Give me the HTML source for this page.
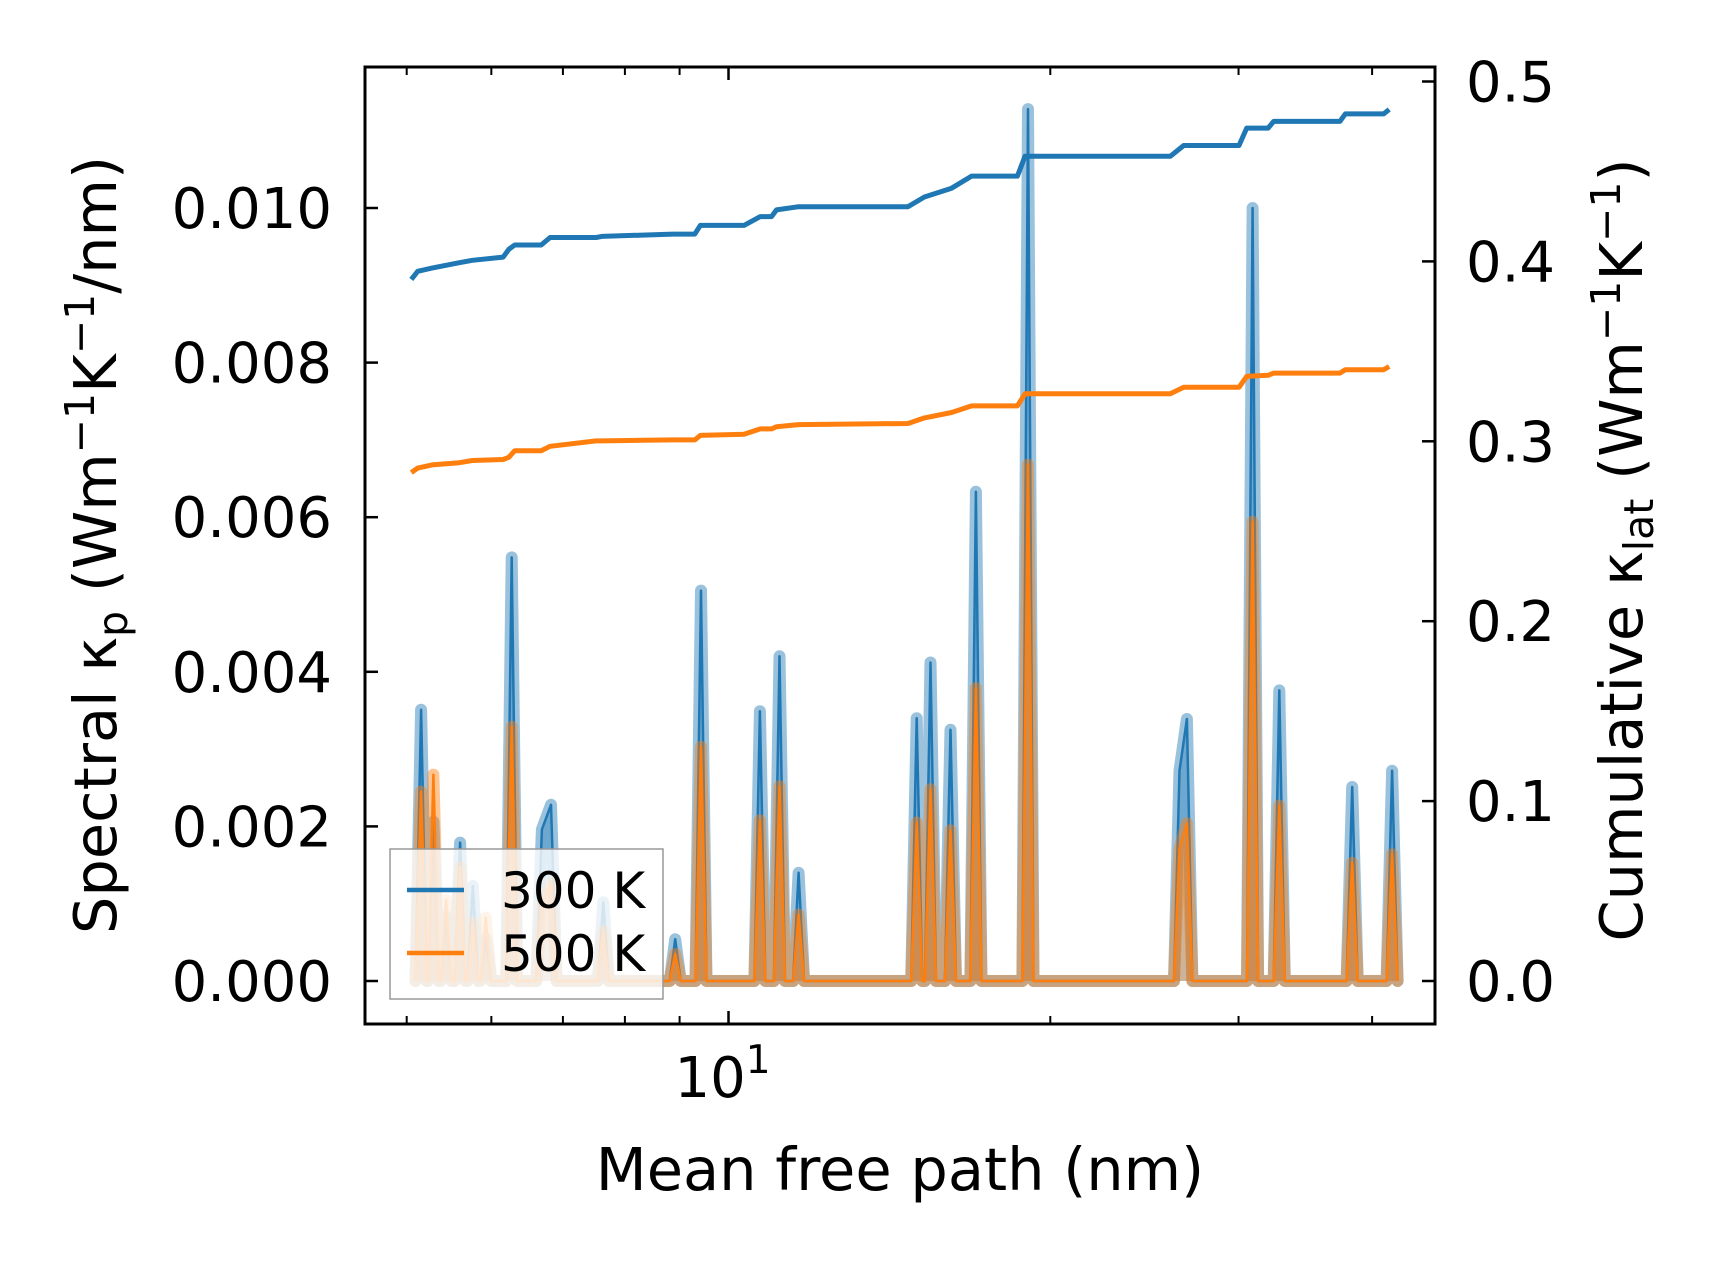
<!DOCTYPE html>
<html><head><meta charset="utf-8"><style>
html,body{margin:0;padding:0;background:#fff;}
svg text{font-family:"DejaVu Sans","Liberation Sans",sans-serif;fill:#000;}
</style></head><body>
<svg id="chart" width="1716" height="1262" viewBox="0 0 1716 1262" xmlns="http://www.w3.org/2000/svg">
<g id="plot"></g>
<g id="axes"></g>
</svg>
<script>
// Spectral kappa spikes (MFP in nm, value in W/mK/nm)
const spikeMfp = [5.157,5.296,5.442,5.609,5.765,5.928,6.269,6.69,6.823,7.637,8.916,9.425,10.70,11.16,11.63,15.00,15.45,16.13,17.04,19.06,26.42,26.84,30.92,32.75,38.32,41.76];
const spec300 = [3.51e-3,2.06e-3,0.84e-3,1.79e-3,1.23e-3,0.55e-3,5.48e-3,1.96e-3,2.28e-3,1.02e-3,0.54e-3,5.05e-3,3.49e-3,4.20e-3,1.40e-3,3.40e-3,4.12e-3,3.25e-3,6.33e-3,11.28e-3,2.72e-3,3.39e-3,10.0e-3,3.76e-3,2.51e-3,2.72e-3];
const spec500 = [2.45e-3,2.67e-3,1.05e-3,1.48e-3,0.76e-3,0.82e-3,3.29e-3,1.00e-3,1.27e-3,0.65e-3,0.35e-3,3.03e-3,2.08e-3,2.52e-3,0.86e-3,2.05e-3,2.48e-3,1.95e-3,3.79e-3,6.68e-3,1.71e-3,2.04e-3,5.94e-3,2.27e-3,1.53e-3,1.64e-3];
// Cumulative kappa (W/mK)
const cumMfp = [5.05,5.12,5.28,5.60,5.76,6.155,6.23,6.31,6.68,6.81,7.52,7.61,8.87,9.30,9.41,10.34,10.71,10.97,11.09,11.63,14.72,15.25,16.17,16.88,18.63,18.94,25.90,26.66,30.03,30.53,31.97,32.36,37.32,37.76,41.0,41.5];
const cum300 = [0.390,0.3945,0.3963,0.3993,0.4006,0.4024,0.4067,0.4091,0.4091,0.4133,0.4133,0.4139,0.4152,0.4152,0.4200,0.4200,0.4249,0.4249,0.4286,0.4304,0.4304,0.4358,0.4407,0.4474,0.4474,0.4584,0.4584,0.4644,0.4644,0.4741,0.4741,0.4778,0.4778,0.4820,0.4820,0.4845];
const cum500 = [0.2826,0.2851,0.2869,0.2881,0.2893,0.2899,0.2911,0.2948,0.2948,0.2972,0.3002,0.3002,0.3008,0.3008,0.3033,0.3039,0.3069,0.3069,0.3081,0.3093,0.3099,0.3130,0.3160,0.3197,0.3197,0.3264,0.3264,0.3300,0.3300,0.3361,0.3367,0.3379,0.3379,0.3398,0.3398,0.3416];
const leftTicks = [0,0.002,0.004,0.006,0.008,0.010];
const leftTickLabels = ["0.000","0.002","0.004","0.006","0.008","0.010"];
const rightTicks = [0,0.1,0.2,0.3,0.4,0.5];
const rightTickLabels = ["0.0","0.1","0.2","0.3","0.4","0.5"];
const minorX = [5,6,7,8,9,20,30,40];

const L=365,R=1435,T=67,B=1024;
const X0=728.5, DEC=1069;
const HW=1.012;
function xs(m){return X0+Math.log10(m/10)*DEC;}
function yl(v){return 981-v*77300;}
function yr(v){return 981-v*1799;}
const NS="http://www.w3.org/2000/svg";
function mk(tag,attrs,parent){const e=document.createElementNS(NS,tag);for(const k in attrs)e.setAttribute(k,attrs[k]);parent.appendChild(e);return e;}
const plot=document.getElementById('plot'), axes=document.getElementById('axes');

function specPoints(vals){
  const pts=[[spikeMfp[0]/HW,0]];
  for(let i=0;i<spikeMfp.length;i++){
    const m=spikeMfp[i];
    const prev=i>0?spikeMfp[i-1]:0;
    if(i>0 && m/HW>prev*HW) pts.push([m/HW,0]);
    pts.push([m,vals[i]]);
    const nxt=i<spikeMfp.length-1?spikeMfp[i+1]:1e9;
    if(m*HW<nxt/HW) pts.push([m*HW,0]);
  }
  return pts;
}
function drawSpec(vals,color,name){
  const pts=specPoints(vals);
  const line=pts.map((p,i)=>(i?'L':'M')+xs(p[0]).toFixed(1)+','+yl(p[1]).toFixed(1)).join(' ');
  const area=line+' L'+xs(pts[pts.length-1][0]).toFixed(1)+','+yl(0)+' L'+xs(pts[0][0]).toFixed(1)+','+yl(0)+' Z';
  const a=mk('path',{d:area,fill:color,'fill-opacity':0.35},plot);
  
  
  const w=mk('path',{d:line,fill:'none',stroke:color,'stroke-opacity':0.45,'stroke-width':12,'stroke-linejoin':'round','stroke-linecap':'round'},plot);
  
  
  const t=mk('path',{d:line,fill:'none',stroke:color,'stroke-width':2.5,'stroke-linejoin':'round'},plot);
  
  
}
drawSpec(spec300,'#1f77b4','spectral-300k');
drawSpec(spec500,'#ff7f0e','spectral-500k');
function drawCum(vals,color,name){
  const d=cumMfp.map((m,i)=>(i?'L':'M')+xs(m).toFixed(1)+','+yr(vals[i]).toFixed(1)).join(' ');
  const p=mk('path',{d:d,fill:'none',stroke:color,'stroke-width':5,'stroke-linejoin':'round'},plot);
  
  
}
drawCum(cum300,'#1f77b4','cumulative-300k');
drawCum(cum500,'#ff7f0e','cumulative-500k');

// legend
const lg=mk('g',{},axes);


mk('rect',{x:390,y:849,width:273,height:150,fill:'#fff','fill-opacity':0.8,stroke:'#999','stroke-width':1.5},lg);
[['#1f77b4','300 K',890],['#ff7f0e','500 K',953]].forEach(([c,t,y])=>{
  const g=mk('g',{},lg);
  
  
  mk('line',{x1:407,x2:464,y1:y,y2:y,stroke:c,'stroke-width':4.5},g);
  const tx=mk('text',{x:501,y:y+18,'font-size':50},g);tx.textContent=t;
});

// frame
const fr=mk('rect',{x:L,y:T,width:R-L,height:B-T,fill:'none',stroke:'#000','stroke-width':3},axes);


leftTicks.forEach((v,i)=>{
  const y=yl(v);
  mk('line',{x1:L,x2:L+13,y1:y,y2:y,stroke:'#000','stroke-width':2.5},axes);
  const t=mk('text',{x:L-33,y:y+20,'font-size':56,'text-anchor':'end'},axes);
  t.textContent=leftTickLabels[i];
  
  
});
rightTicks.forEach((v,i)=>{
  const y=yr(v);
  mk('line',{x1:R-13,x2:R,y1:y,y2:y,stroke:'#000','stroke-width':2.5},axes);
  const t=mk('text',{x:R+31,y:y+20,'font-size':56},axes);
  t.textContent=rightTickLabels[i];
  
  
});
minorX.forEach(m=>{
  const x=xs(m);
  mk('line',{x1:x,x2:x,y1:B,y2:B-8,stroke:'#000','stroke-width':2},axes);
  mk('line',{x1:x,x2:x,y1:T,y2:T+8,stroke:'#000','stroke-width':2},axes);
});
{const x=xs(10);
 mk('line',{x1:x,x2:x,y1:B,y2:B-13,stroke:'#000','stroke-width':2.5},axes);
 mk('line',{x1:x,x2:x,y1:T,y2:T+13,stroke:'#000','stroke-width':2.5},axes);
 const t=mk('text',{x:x-6,y:1097,'font-size':56,'text-anchor':'middle'},axes);
 
 
 t.innerHTML='10<tspan font-size="39" dy="-24">1</tspan>';}
</script>
<svg style="position:absolute;left:0;top:0" width="1716" height="1262">
<text x="900" y="1190" font-size="59" text-anchor="middle">Mean free path (nm)</text>
<text transform="translate(116,545) rotate(-90)" font-size="59" text-anchor="middle">Spectral κ<tspan font-size="41" dy="11">p</tspan><tspan dy="-11"> (Wm</tspan><tspan font-size="41" dy="-22">−1</tspan><tspan dy="22">K</tspan><tspan font-size="41" dy="-22">−1</tspan><tspan dy="22">/nm)</tspan></text>
<text transform="translate(1642,550) rotate(-90)" font-size="59" text-anchor="middle">Cumulative κ<tspan font-size="41" dy="11">lat</tspan><tspan dy="-11"> (Wm</tspan><tspan font-size="41" dy="-22">−1</tspan><tspan dy="22">K</tspan><tspan font-size="41" dy="-22">−1</tspan><tspan dy="22">)</tspan></text>
</svg>
</body></html>
